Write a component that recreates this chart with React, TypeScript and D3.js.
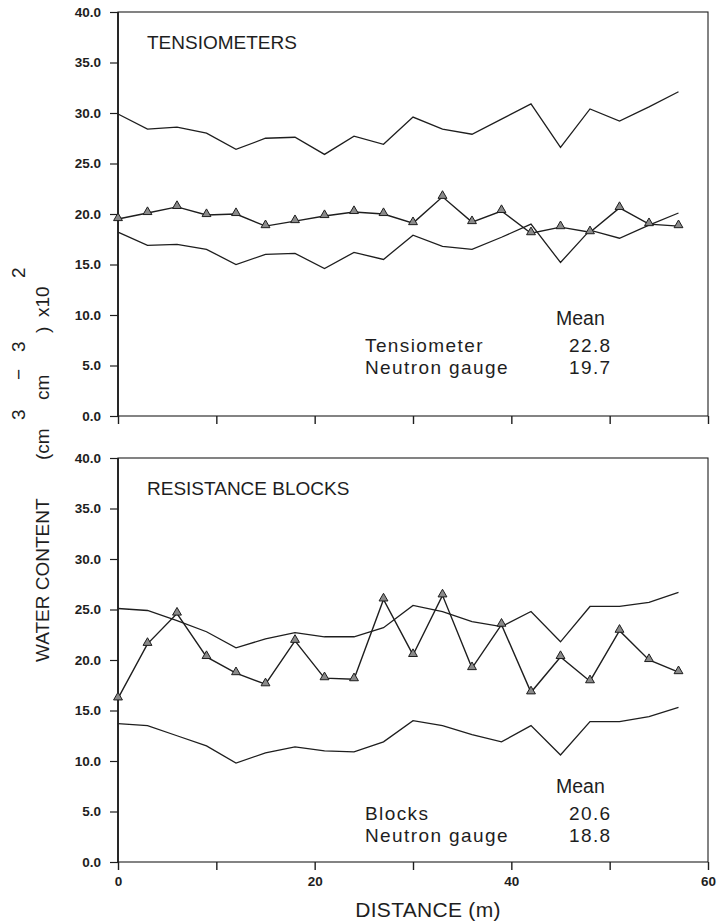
import { useEffect, useRef } from "react";
import * as d3 from "d3";

// distance along transect (m)
const distance = [0, 3, 6, 9, 12, 15, 18, 21, 24, 27, 30, 33, 36, 39, 42, 45, 48, 51, 54, 57];

// top panel: tensiometer band + neutron gauge
const tensUpper = [29.9, 28.4, 28.6, 28.0, 26.4, 27.5, 27.6, 25.9, 27.7, 26.9, 29.6, 28.4, 27.9, 29.4, 30.9, 26.6, 30.4, 29.2, 30.6, 32.1];
const tensLower = [18.2, 16.9, 17.0, 16.5, 15.0, 16.0, 16.1, 14.6, 16.2, 15.5, 17.9, 16.8, 16.5, 17.7, 19.0, 15.2, 18.4, 17.6, 18.9, 20.1];
const neutronTop = [19.5, 20.1, 20.7, 19.9, 20.0, 18.8, 19.3, 19.8, 20.2, 20.0, 19.1, 21.7, 19.2, 20.3, 18.1, 18.7, 18.2, 20.6, 19.0, 18.8];

// bottom panel: resistance blocks band + neutron gauge
const blocksUpper = [25.1, 24.9, 23.9, 22.8, 21.2, 22.1, 22.7, 22.3, 22.3, 23.2, 25.4, 24.8, 23.8, 23.3, 24.8, 21.8, 25.3, 25.3, 25.7, 26.7];
const blocksLower = [13.7, 13.5, 12.5, 11.5, 9.8, 10.8, 11.4, 11.0, 10.9, 11.9, 14.0, 13.5, 12.6, 11.9, 13.5, 10.6, 13.9, 13.9, 14.4, 15.3];
const neutronBottom = [16.2, 21.6, 24.6, 20.3, 18.7, 17.6, 21.9, 18.2, 18.1, 26.0, 20.5, 26.4, 19.2, 23.5, 16.8, 20.3, 17.9, 22.9, 20.0, 18.8];

const yTicks = [0, 5, 10, 15, 20, 25, 30, 35, 40];
const xTicks = [0, 10, 20, 30, 40, 50, 60];
const xLabels = [0, 20, 40, 60];

const panels = [
  { title: "TENSIOMETERS", upper: tensUpper, lower: tensLower, neutron: neutronTop, label: "Tensiometer", mean1: "22.8", mean2: "19.7", top: 12, legY: 313, showX: false },
  { title: "RESISTANCE BLOCKS", upper: blocksUpper, lower: blocksLower, neutron: neutronBottom, label: "Blocks", mean1: "20.6", mean2: "18.8", top: 458, legY: 335, showX: true },
];

const W = 718, H = 923;
const INK = "#1e1e1e";
const FONT = "'Liberation Sans', Arial, sans-serif";

const App = () => {
  const ref = useRef<SVGSVGElement>(null);

  useEffect(() => {
    document.body.style.margin = "0";
    const svg = d3.select(ref.current);
    svg.selectAll("*").remove();
    svg.append("rect").attr("width", W).attr("height", H).attr("fill", "#fff");

    const x = d3.scaleLinear().domain([0, 60]).range([118, 708]);
    const ph = 404;

    panels.forEach((p) => {
      const y = d3.scaleLinear().domain([0, 40]).range([p.top + ph, p.top]);
      const g = svg.append("g");

      // frame
      g.append("rect")
        .attr("x", x(0)).attr("y", y(40))
        .attr("width", x(60) - x(0)).attr("height", y(0) - y(40))
        .attr("fill", "none").attr("stroke", INK).attr("stroke-width", 1.1);
      g.append("line").attr("x1", x(0)).attr("x2", x(0)).attr("y1", y(40)).attr("y2", y(0))
        .attr("stroke", INK).attr("stroke-width", 1.8);

      // y axis
      const ya = g.append("g").attr("transform", `translate(${x(0)},0)`)
        .call(d3.axisLeft(y).tickValues(yTicks).tickSize(8).tickPadding(9).tickFormat(d3.format(".1f")));
      ya.select(".domain").remove();
      ya.selectAll("line").attr("stroke", INK).attr("stroke-width", 1.2);
      ya.selectAll("text").attr("font-family", FONT).attr("font-size", 13.5).attr("font-weight", "bold")
        .attr("fill", INK);

      // x axis
      const xa = g.append("g").attr("transform", `translate(0,${y(0)})`)
        .call(d3.axisBottom(x).tickValues(xTicks).tickSize(8).tickPadding(6)
          .tickFormat((d) => (p.showX && xLabels.includes(+d) ? String(d) : "")));
      xa.select(".domain").remove();
      xa.selectAll("line").attr("stroke", INK).attr("stroke-width", 1.4);
      xa.selectAll("text").attr("font-family", FONT).attr("font-size", 13.5).attr("font-weight", "bold")
        .attr("fill", INK);

      const line = d3.line<number>().x((_, i) => x(distance[i])).y((d) => y(d));
      [p.upper, p.lower].forEach((s) => {
        g.append("path").attr("d", line(s)).attr("fill", "none")
          .attr("stroke", INK).attr("stroke-width", 1.3);
      });
      g.append("path").attr("d", line(p.neutron)).attr("fill", "none")
        .attr("stroke", INK).attr("stroke-width", 1.4);

      const tri = d3.symbol().type(d3.symbolTriangle).size(34);
      g.selectAll(".tri").data(p.neutron).enter().append("path")
        .attr("class", "tri")
        .attr("d", tri)
        .attr("transform", (d, i) => `translate(${x(distance[i])},${y(d) - 1})`)
        .attr("fill", "#8a8a8a").attr("stroke", INK).attr("stroke-width", 1);

      // titles and legend
      g.append("text").attr("x", 147).attr("y", p.top + 36.5).text(p.title)
        .attr("font-family", FONT).attr("font-size", 19).attr("fill", INK);
      g.append("text").attr("x", 556).attr("y", p.top + p.legY).text("Mean")
        .attr("font-family", FONT).attr("font-size", 19.5).attr("fill", INK);
      const leg = [
        { t: p.label, x: 365, dy: 27 },
        { t: p.mean1, x: 569, dy: 27 },
        { t: "Neutron gauge", x: 365, dy: 49 },
        { t: p.mean2, x: 569, dy: 49 },
      ];
      g.selectAll(".leg").data(leg).enter().append("text")
        .attr("x", (d) => d.x).attr("y", (d) => p.top + p.legY + d.dy).text((d) => d.t)
        .attr("font-family", FONT).attr("font-size", 19).attr("fill", INK)
        .attr("letter-spacing", 1.4);
    });

    // x title
    svg.append("text").attr("x", 428).attr("y", 917).attr("text-anchor", "middle")
      .text("DISTANCE (m)").attr("font-family", FONT).attr("font-size", 21).attr("fill", INK)
      .attr("letter-spacing", 0.3);

    // y title, rotated; local x = distance up from y=662, local y = shift from x=49
    const yt = svg.append("text").attr("transform", "translate(49,662) rotate(-90)")
      .attr("font-family", FONT).attr("font-size", 19).attr("fill", INK);
    const parts = [
      { t: "WATER CONTENT", x: 0, y: 0 },
      { t: "(cm", x: 202, y: 0 },
      { t: "3", x: 242, y: -24 },
      { t: "cm", x: 262, y: 0 },
      { t: "\u2212", x: 282, y: -24 },
      { t: "3", x: 310, y: -24 },
      { t: ")", x: 329, y: 0 },
      { t: "x10", x: 345, y: 0 },
      { t: "2", x: 384, y: -24 },
    ];
    parts.forEach((s) => {
      yt.append("tspan").attr("x", s.x).attr("y", s.y).text(s.t);
    });
  }, []);

  return <svg ref={ref} width={W} height={H} style={{ display: "block" }} />;
};

export default App;
